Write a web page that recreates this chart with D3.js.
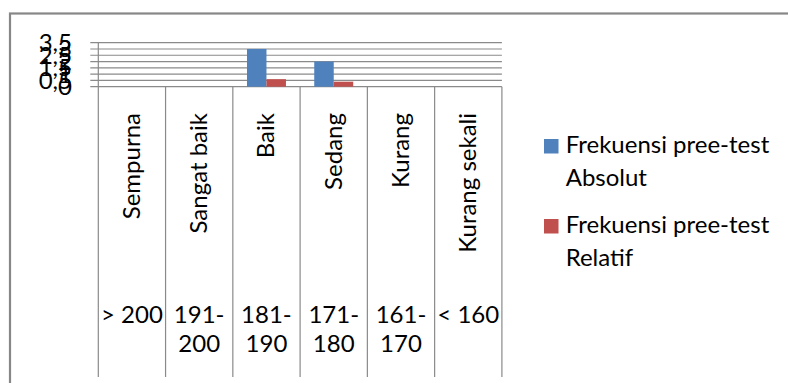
<!DOCTYPE html>
<html>
<head>
<meta charset="utf-8">
<script src="https://cdn.jsdelivr.net/npm/d3@7/dist/d3.min.js"></script>
<style>
  html, body { margin: 0; padding: 0; background: #fff; }
  svg { display: block; }
  text { font-family: Lato, "Open Sans", sans-serif; fill: #000; }
</style>
</head>
<body>
<svg id="chart" width="788" height="383"></svg>
<script>
// Category names (inner axis level) and score ranges (outer axis level)
const categories = ["Sempurna", "Sangat baik", "Baik", "Sedang", "Kurang", "Kurang sekali"];
const ranges = ["> 200", "191-200", "181-190", "171-180", "161-170", "< 160"];

// Pre-test frequencies
const absolut = [0, 0, 3, 2, 0, 0];
const relatif = [0, 0, 0.6, 0.4, 0, 0];

const seriesNames = ["Frekuensi pree-test Absolut", "Frekuensi pree-test Relatif"];
const seriesColors = ["#4F81BD", "#C0504D"];

const yTicks = [0, 0.5, 1, 1.5, 2, 2.5, 3, 3.5];

const svg = d3.select("#chart");
const gridColor = "#8a8a8a";
const fontSize = 24;

// Outer chart frame
svg.append("rect")
  .attr("x", 10).attr("y", 13.5)
  .attr("width", 800).attr("height", 400)
  .attr("fill", "none")
  .attr("stroke", "#878787")
  .attr("stroke-width", 2.2);

const plot = { left: 98.3, right: 501.9, top: 42.7, bottom: 86.7, axisBottom: 377 };

const x = d3.scaleBand()
  .domain(categories)
  .range([plot.left, plot.right])
  .paddingInner(0).paddingOuter(0);

const y = d3.scaleLinear()
  .domain([0, 3.5])
  .range([plot.bottom, plot.top]);

// Horizontal gridlines (with outside tick marks)
svg.append("g")
  .selectAll("line")
  .data(yTicks)
  .join("line")
  .attr("x1", plot.left - 8)
  .attr("x2", plot.right)
  .attr("y1", d => y(d))
  .attr("y2", d => y(d))
  .attr("stroke", gridColor)
  .attr("stroke-width", 1.2);

// Y tick labels (decimal comma)
const fmt = d => String(d).replace(".", ",");
svg.append("g")
  .selectAll("text")
  .data(yTicks)
  .join("text")
  .attr("x", 72)
  .attr("y", d => y(d))
  .attr("dy", "0.35em")
  .attr("text-anchor", "end")
  .style("font-size", fontSize + "px")
  .text(fmt);

// Bars
const x1 = d3.scaleBand()
  .domain([0, 1])
  .range([0, x.bandwidth()])
  .paddingInner(0)
  .paddingOuter(0.726);

const seriesData = [absolut, relatif];
seriesData.forEach((vals, s) => {
  svg.append("g")
    .selectAll("rect")
    .data(vals.map((v, i) => ({ cat: categories[i], v })))
    .join("rect")
    .attr("x", d => x(d.cat) + x1(s))
    .attr("width", x1.bandwidth())
    .attr("y", d => y(d.v))
    .attr("height", d => y(0) - y(d.v))
    .attr("fill", seriesColors[s]);
});

// Multi-level category axis: vertical dividers
const bounds = categories.map(c => x(c)).concat([plot.right]);
svg.append("g")
  .selectAll("line")
  .data(bounds)
  .join("line")
  .attr("x1", d => d).attr("x2", d => d)
  .attr("y1", (d, i) => i === 0 ? plot.top : plot.bottom)
  .attr("y2", plot.axisBottom)
  .attr("stroke", gridColor)
  .attr("stroke-width", 1.2);

// Inner level: rotated category names
svg.append("g")
  .selectAll("text")
  .data(categories)
  .join("text")
  .attr("transform", d => `translate(${x(d) + x.bandwidth() / 2 + 8},113) rotate(-90)`)
  .attr("text-anchor", "end")
  .style("font-size", fontSize + "px")
  .text(d => d);

// Outer level: score ranges, wrapped after the hyphen
const rangeText = svg.append("g")
  .selectAll("text")
  .data(ranges)
  .join("text")
  .attr("x", (d, i) => x(categories[i]) + x.bandwidth() / 2)
  .attr("y", 323)
  .attr("text-anchor", "middle")
  .style("font-size", fontSize + "px");
rangeText.each(function(d) {
  const parts = d.includes("-") ? [d.slice(0, d.indexOf("-") + 1), d.slice(d.indexOf("-") + 1)] : [d];
  const t = d3.select(this);
  parts.forEach((p, k) => {
    t.append("tspan")
      .attr("x", t.attr("x"))
      .attr("dy", k === 0 ? 0 : 29)
      .text(p);
  });
});

// Legend
const legend = svg.append("g");
const legendRows = [
  ["Frekuensi pree-test", "Absolut"],
  ["Frekuensi pree-test", "Relatif"]
];
legendRows.forEach((lines, s) => {
  const top = 139 + s * 80;
  legend.append("rect")
    .attr("x", 544).attr("y", top)
    .attr("width", 14.5).attr("height", 14.5)
    .attr("fill", seriesColors[s]);
  const t = legend.append("text")
    .attr("x", 565.7)
    .attr("y", top + 14.3)
    .style("font-size", fontSize + "px");
  lines.forEach((ln, k) => {
    t.append("tspan").attr("x", 565.7).attr("dy", k === 0 ? 0 : 32.5).text(ln);
  });
});
</script>
</body>
</html>
